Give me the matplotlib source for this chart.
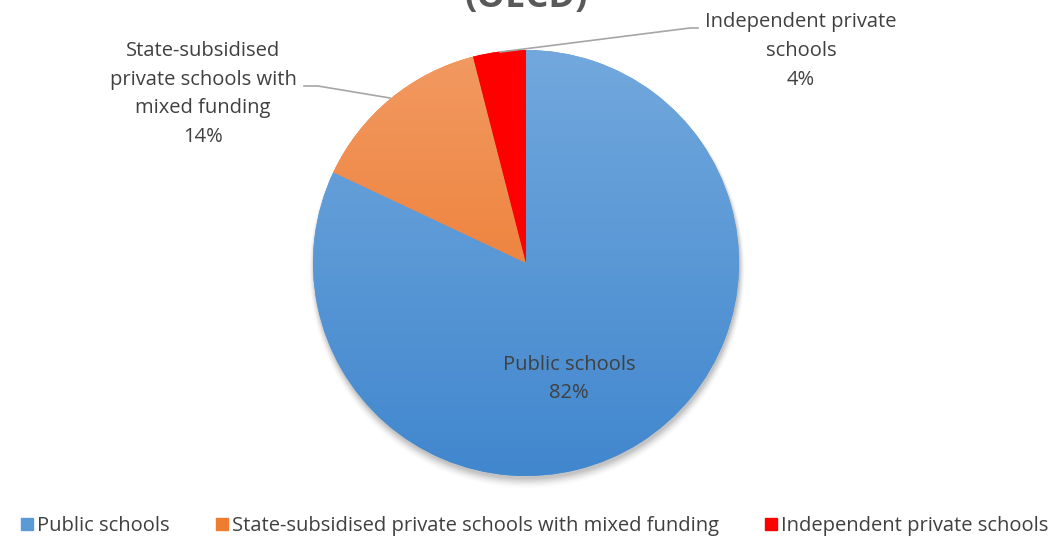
import numpy as np
import matplotlib.pyplot as plt
from matplotlib.colors import LinearSegmentedColormap

labels = ['Public schools', 'State-subsidised private schools with mixed funding',
          'Independent private schools']
shares = [82, 14, 4]
colors = ['#5B9BD5', '#ED7D31', '#FF0000']
grads = [('#72A8DD', '#4187CE'), ('#F29A62', '#EB6F1F'), ('#FF0000', '#FF0000')]

W, H = 1053, 539
fig = plt.figure(figsize=(W / 100, H / 100), dpi=100)
ax = fig.add_axes([0, 0, 1, 1])
plt.rcParams['font.family'] = ['Open Sans', 'DejaVu Sans']

cx, cy, r = 526, H - 263, 213

# soft shadow under the pie
for i, a in enumerate(np.linspace(0.05, 0.012, 8)):
    ax.add_patch(plt.Circle((cx + 1, cy - 3 - i * 0.6), r + i * 0.7, color='black',
                            alpha=a, lw=0, zorder=0))

wedges, _ = ax.pie(shares, colors=colors, startangle=90, counterclock=False,
                   center=(cx, cy), radius=r, wedgeprops=dict(lw=0))

# vertical gradient fill inside each wedge
for w, (top, bot) in zip(wedges, grads):
    cmap = LinearSegmentedColormap.from_list('g', [bot, top])
    g = np.linspace(0, 1, 256).reshape(-1, 1)
    im = ax.imshow(g, cmap=cmap, origin='lower', aspect='auto',
                   extent=[cx - r, cx + r, cy - r, cy + r], zorder=2)
    im.set_clip_path(w)

ax.set_xlim(0, W)
ax.set_ylim(0, H)
ax.axis('off')

tc = '#404040'
fs = 14.5
ax.text(569, H - 379, 'Public schools\n82%', ha='center', va='center', fontsize=fs,
        color=tc, linespacing=1.6, zorder=5)
ax.text(203, H - 94, 'State-subsidised\nprivate schools with\nmixed funding\n14%',
        ha='center', va='center', fontsize=fs, color=tc, linespacing=1.6, zorder=5)
ax.text(801, H - 51, 'Independent private\nschools\n4%', ha='center', va='center',
        fontsize=fs, color=tc, linespacing=1.6, zorder=5)

lc = '#A6A6A6'
ax.plot([304, 318, 390], [H - 86, H - 86, H - 98], color=lc, lw=1.2, zorder=4)
ax.plot([698, 690, 500], [H - 28, H - 28, H - 52], color=lc, lw=1.2, zorder=4)

# title, first lines cut off above the frame
ax.text(cx, H + 2, '(OECD)', ha='center', va='center', fontsize=26,
        fontweight='bold', color='#595959', zorder=5)

handles = [plt.Rectangle((0, 0), 1, 1, color=c) for c in colors]
fig.legend(handles, labels, loc='center', bbox_to_anchor=(0.5 + 8 / W, 1 - 526 / H),
           ncol=3, frameon=False, fontsize=14.5, labelcolor=tc, handlelength=0.6,
           handleheight=0.6, handletextpad=0.2, columnspacing=2.3)

fig.savefig('out.png', dpi=100)
